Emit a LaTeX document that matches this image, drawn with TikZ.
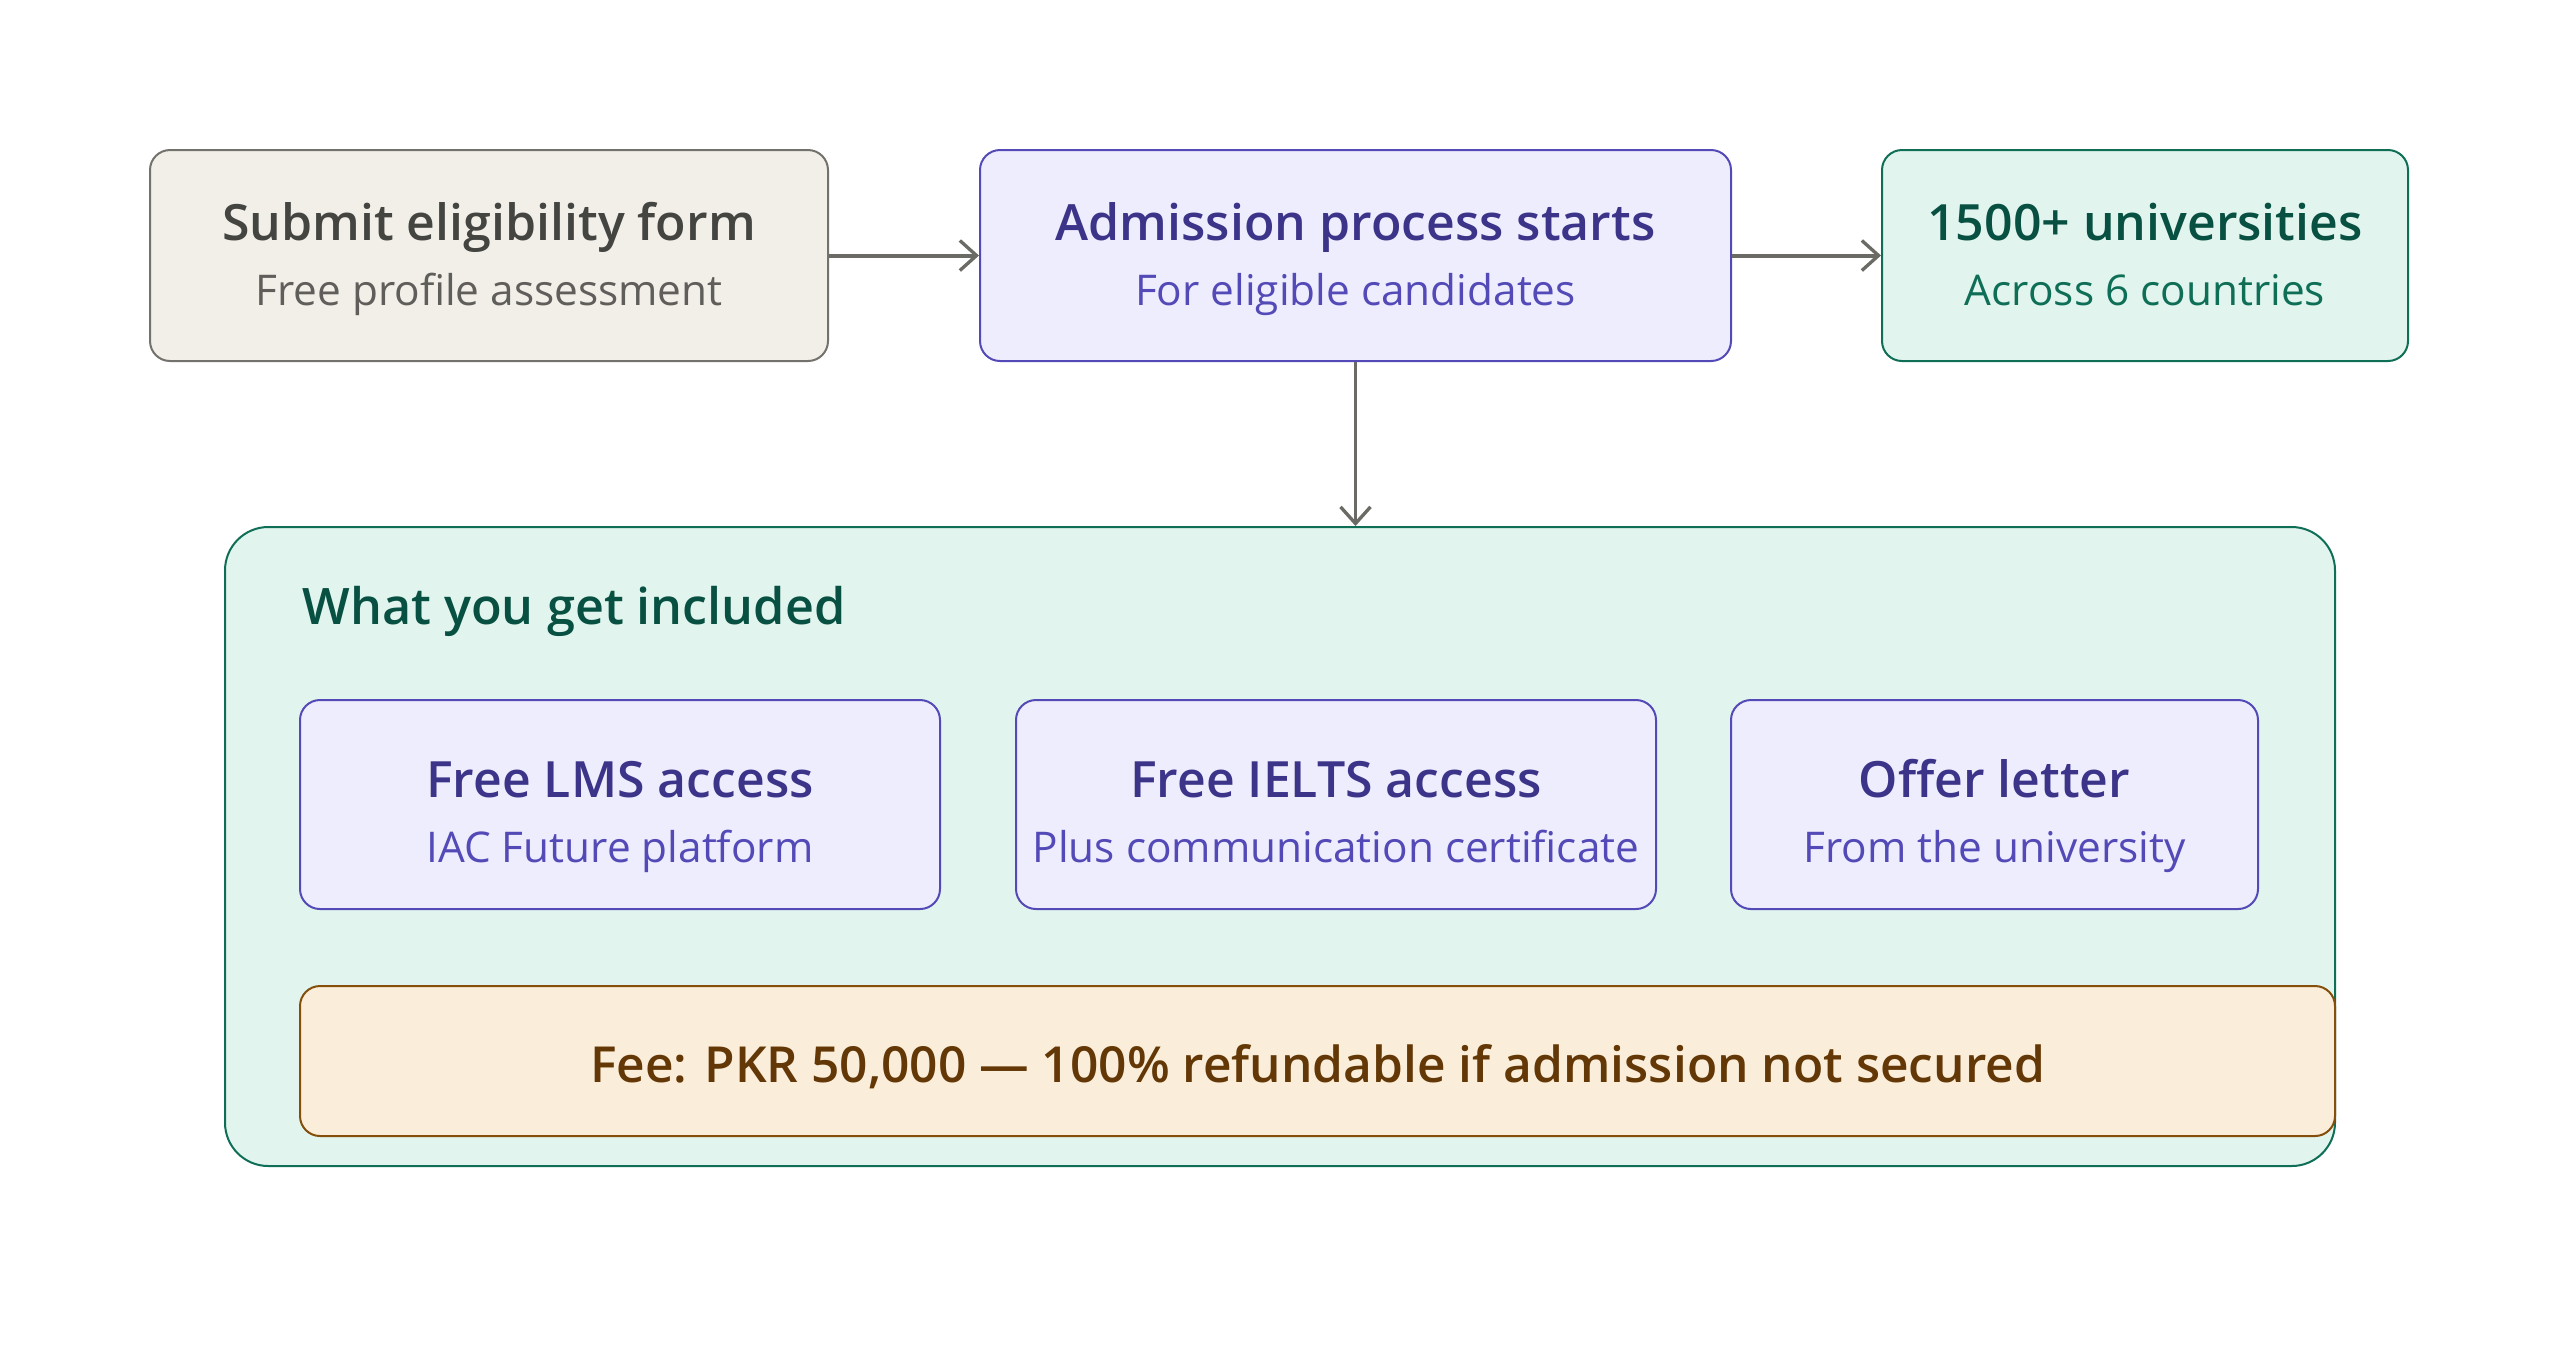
\documentclass[tikz,border=0pt]{standalone}
\usepackage{fontspec}
\setmainfont{Open Sans}[BoldFont={Open Sans Semibold}]
\usetikzlibrary{arrows.meta}
\definecolor{grayfill}{HTML}{F1EFE8}
\definecolor{graydraw}{HTML}{73726C}
\definecolor{graytitle}{HTML}{444441}
\definecolor{graysub}{HTML}{5F5E5A}
\definecolor{purfill}{HTML}{EEEDFE}
\definecolor{purdraw}{HTML}{534AB7}
\definecolor{purtitle}{HTML}{3C3489}
\definecolor{pursub}{HTML}{534AB7}
\definecolor{grnfill}{HTML}{E1F5EE}
\definecolor{grndraw}{HTML}{0F6E56}
\definecolor{grntitle}{HTML}{085041}
\definecolor{grnsub}{HTML}{0F6E56}
\definecolor{feefill}{HTML}{FAEEDA}
\definecolor{feedraw}{HTML}{854F0B}
\definecolor{feetext}{HTML}{633806}
\definecolor{arrowc}{HTML}{6B6A64}
\tikzset{
  box/.style={rounded corners=6pt, line width=0.6pt, inner sep=0pt, minimum height=63.3pt},
  graybox/.style={box, fill=grayfill, draw=graydraw},
  purbox/.style={box, fill=purfill, draw=purdraw},
  grnbox/.style={box, fill=grnfill, draw=grndraw},
  ttext/.style={inner sep=0pt, anchor=base, font=\fontsize{15pt}{18pt}\selectfont\bfseries},
  stext/.style={inner sep=0pt, anchor=base, font=\fontsize{12.7pt}{15pt}\selectfont},
  arr/.style={draw=arrowc, line width=1.2pt, -{Straight Barb[length=5pt,width=9pt,line width=1pt]}},
}
\begin{document}
\begin{tikzpicture}[x=0.3pt,y=-0.3pt]
\useasboundingbox (0,0) rectangle (2560,1355);
% top row
\node[graybox, minimum width=203.4pt] (b1) at (489,255.5) {};
\node[ttext, text=graytitle] (b1t) at (489,240) {Submit eligibility form};
\node[stext, text=graysub] (b1s) at (489,305) {Free profile assessment};
\node[purbox, minimum width=225.3pt] (b2) at (1355.5,255.5) {};
\node[ttext, text=purtitle] (b2t) at (1355.5,240) {Admission process starts};
\node[stext, text=pursub] (b2s) at (1355.5,305) {For eligible candidates};
\node[grnbox, minimum width=157.8pt] (b3) at (2145,255.5) {};
\node[ttext, text=grntitle] (b3t) at (2145,240) {1500+ universities};
\node[stext, text=grnsub] (b3s) at (2145,305) {Across 6 countries};
% container
\node[rounded corners=13pt, fill=grnfill, draw=grndraw, line width=0.6pt, minimum width=633pt, minimum height=191.7pt, inner sep=0pt] (cont) at (1280,846.5) {};
\node[ttext, anchor=base west, text=grntitle, font=\fontsize{15.1pt}{18pt}\selectfont\bfseries] (ttl) at (302,624) {What you get included};
\node[purbox, minimum width=192pt, minimum height=62.7pt] (s1) at (620,804.5) {};
\node[ttext, text=purtitle] (s1t) at (620,797) {Free LMS access};
\node[stext, text=pursub] (s1s) at (620,862) {IAC Future platform};
\node[purbox, minimum width=192pt, minimum height=62.7pt] (s2) at (1336,804.5) {};
\node[ttext, text=purtitle] (s2t) at (1336,797) {Free IELTS access};
\node[stext, text=pursub] (s2s) at (1336,862) {Plus communication certificate};
\node[purbox, minimum width=158.1pt, minimum height=62.7pt] (s3) at (1994.5,804.5) {};
\node[ttext, text=purtitle] (s3t) at (1994.5,797) {Offer letter};
\node[stext, text=pursub] (s3s) at (1994.5,862) {From the university};
\node[box, fill=feefill, draw=feedraw, minimum width=610.5pt, minimum height=45pt] (fee) at (1317.5,1061) {};
\node[inner sep=0pt, anchor=base, text=feetext, font=\fontsize{14.9pt}{17pt}\selectfont\bfseries] (feet) at (1317.5,1082)
  {Fee: PKR 50,000 --- 100\% refundable if admission not secured};
% connectors
\draw[arr] (b1.east) -- (b2.west);
\draw[arr] (b2.east) -- (b3.west);
\draw[arr, line width=0.8pt] (b2.south) -- (b2.south |- cont.north);
\end{tikzpicture}
\end{document}
